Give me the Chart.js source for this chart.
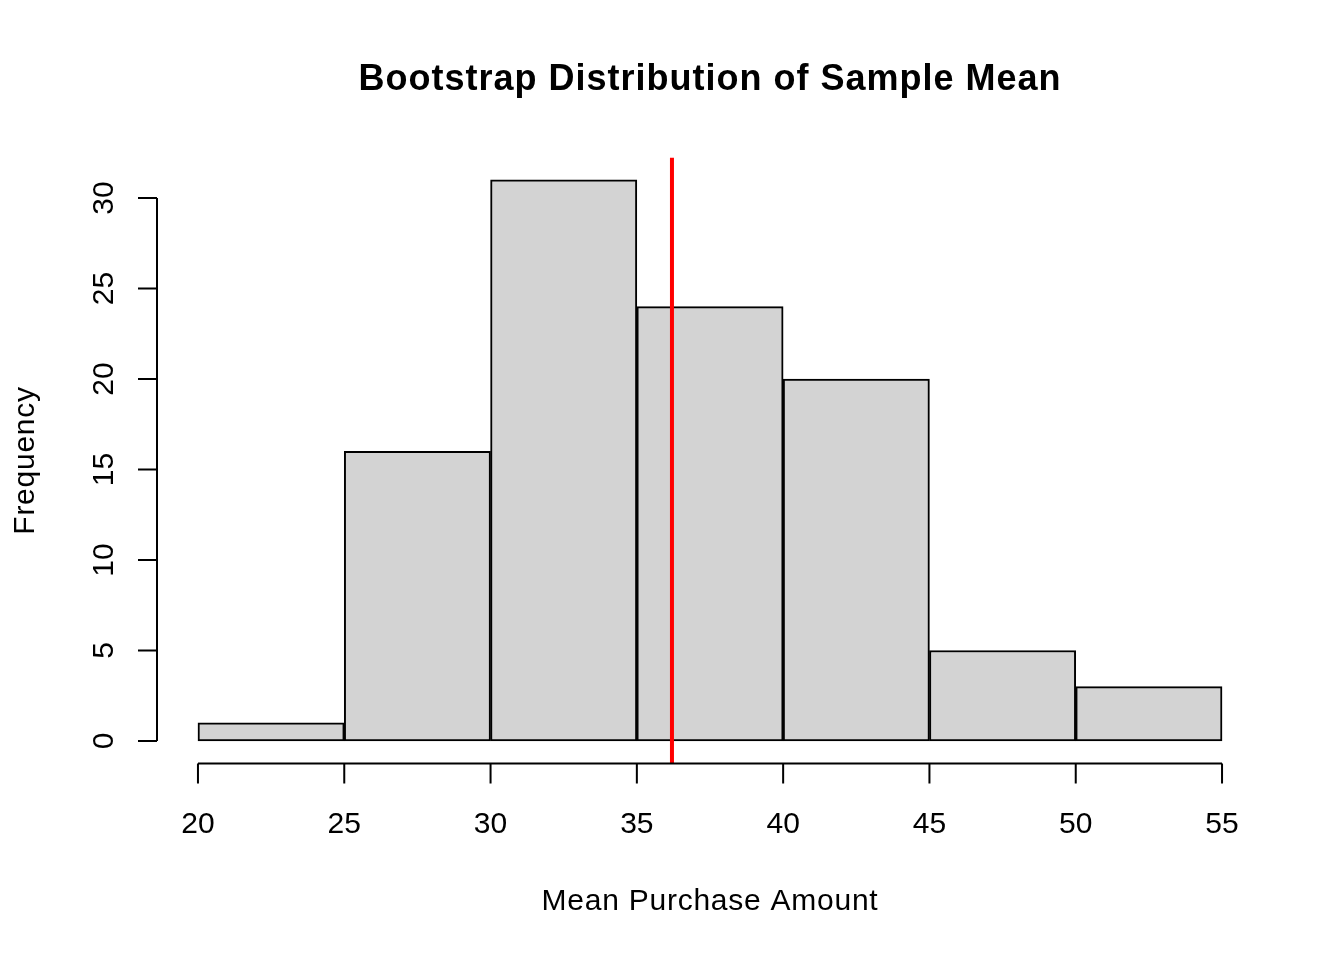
<!DOCTYPE html>
<html>
<head>
<meta charset="utf-8">
<script src="https://cdn.jsdelivr.net/npm/chart.js@4/dist/chart.umd.min.js"></script>
<style>
  html, body { margin: 0; padding: 0; background: #fff; }
  #wrap { width: 1344px; height: 960px; }
</style>
</head>
<body>
<div id="wrap"><canvas id="hist" width="1344" height="960"></canvas></div>
<script>
// histogram data
var binEdges = [20, 25, 30, 35, 40, 45, 50, 55];
var counts = [1, 16, 31, 24, 20, 5, 3];
var meanValue = 36.2;
var xTicks = [20, 25, 30, 35, 40, 45, 50, 55];
var yTicks = [0, 5, 10, 15, 20, 25, 30];
var titleText = 'Bootstrap Distribution of Sample Mean';
var xTitle = 'Mean Purchase Amount';
var yTitle = 'Frequency';

var bars = counts.map(function (c, i) {
  return { x: (binEdges[i] + binEdges[i + 1]) / 2, y: c };
});

// R style axis range (4% extension)
var xMin = 20 - 35 * 0.04, xMax = 55 + 35 * 0.04;
var yMin = -31 * 0.04, yMax = 31 * 1.04;

var FONT = '"Liberation Sans", Arial, sans-serif';

var rAxes = {
  id: 'rAxes',
  afterDraw: function (chart) {
    var ctx = chart.ctx, xs = chart.scales.x, ys = chart.scales.y, area = chart.chartArea;
    ctx.save();
    ctx.strokeStyle = '#000';
    ctx.fillStyle = '#000';
    ctx.lineWidth = 2;

    // x axis
    var ay = Math.round(area.bottom) + 0.5;
    ctx.beginPath();
    ctx.moveTo(xs.getPixelForValue(xTicks[0]), ay);
    ctx.lineTo(xs.getPixelForValue(xTicks[xTicks.length - 1]), ay);
    xTicks.forEach(function (v) {
      var px = xs.getPixelForValue(v);
      ctx.moveTo(px, ay);
      ctx.lineTo(px, ay + 20);
    });
    ctx.stroke();

    // y axis
    var ax = Math.round(area.left);
    ctx.beginPath();
    ctx.moveTo(ax, ys.getPixelForValue(yTicks[0]));
    ctx.lineTo(ax, ys.getPixelForValue(yTicks[yTicks.length - 1]));
    yTicks.forEach(function (v) {
      var py = ys.getPixelForValue(v);
      ctx.moveTo(ax, py);
      ctx.lineTo(ax - 19, py);
    });
    ctx.stroke();

    ctx.font = '30px ' + FONT;
    ctx.textAlign = 'center';
    ctx.textBaseline = 'alphabetic';
    xTicks.forEach(function (v) {
      ctx.fillText(String(v), xs.getPixelForValue(v), 833);
    });
    yTicks.forEach(function (v) {
      ctx.save();
      ctx.translate(113, ys.getPixelForValue(v));
      ctx.rotate(-Math.PI / 2);
      ctx.fillText(String(v), 0, 0);
      ctx.restore();
    });

    var cx = (area.left + area.right) / 2;
    var cy = (area.top + area.bottom) / 2;
    ctx.letterSpacing = '0.75px';
    ctx.fillText(xTitle, cx, 910);
    ctx.save();
    ctx.translate(34, cy);
    ctx.rotate(-Math.PI / 2);
    ctx.fillText(yTitle, 0, 0);
    ctx.restore();

    ctx.font = 'bold 36px ' + FONT;
    ctx.letterSpacing = '1px';
    ctx.fillText(titleText, cx, 90);
    ctx.restore();
  }
};

new Chart(document.getElementById('hist'), {
  data: {
    datasets: [{
      type: 'line',
      data: [{ x: meanValue, y: yMin }, { x: meanValue, y: yMax }],
      borderColor: '#ff0000',
      borderWidth: 4,
      pointRadius: 0,
      order: 0
    }, {
      type: 'bar',
      data: bars,
      backgroundColor: '#d3d3d3',
      borderColor: '#000000',
      borderWidth: 2,
      borderSkipped: false,
      barPercentage: 1,
      categoryPercentage: 1,
      order: 1
    }]
  },
  options: {
    responsive: false,
    devicePixelRatio: 1,
    animation: false,
    layout: { padding: { left: 157, right: 81, top: 157.5, bottom: 196.6 } },
    plugins: { legend: { display: false }, tooltip: { enabled: false }, title: { display: false } },
    scales: {
      x: { type: 'linear', min: xMin, max: xMax, offset: false, display: false },
      y: { type: 'linear', min: yMin, max: yMax, display: false }
    }
  },
  plugins: [rAxes]
});
</script>
</body>
</html>
